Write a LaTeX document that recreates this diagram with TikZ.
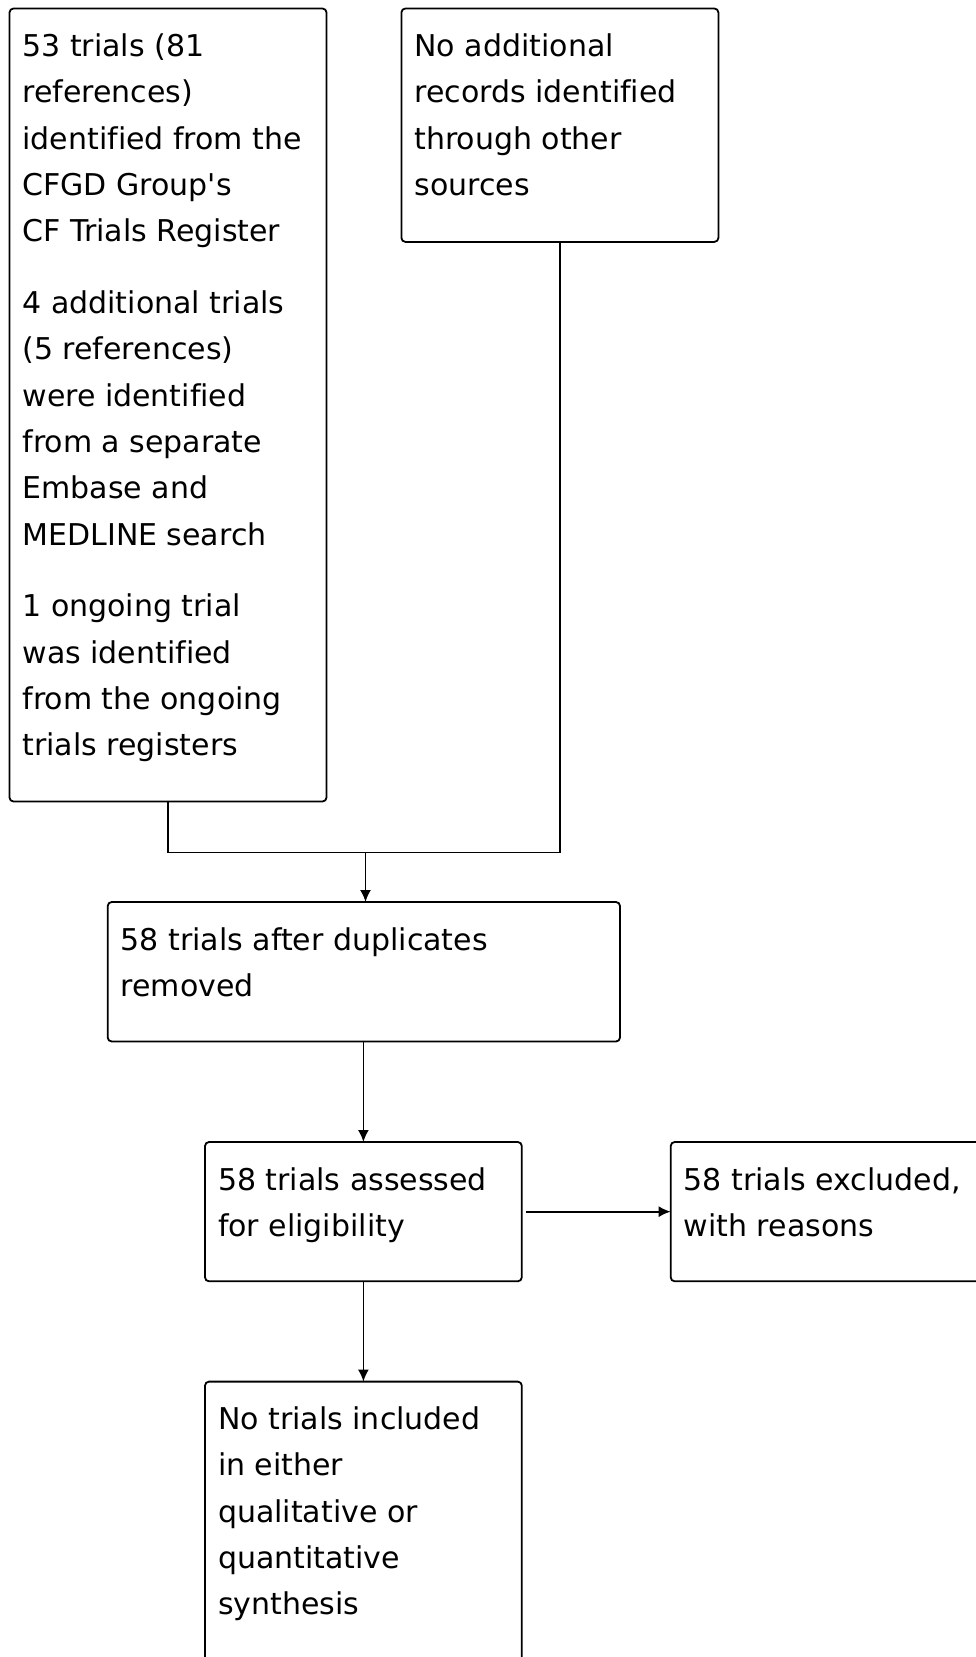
\documentclass[tikz,border=0pt]{standalone}
\usepackage{fontspec}
\setmainfont{DejaVu Sans}[Ligatures=CommonOff]
\usetikzlibrary{arrows.meta}
\newcommand\boxtxt[3]{\parbox[c][#2pt][t]{#1pt}{\raggedright\fontsize{30}{46.3}\selectfont\setlength{\parindent}{0pt}\setlength{\parskip}{25.5pt}\rule{0pt}{48pt}#3}}
\tikzset{
  flowbox/.style={draw=black, line width=1.8pt, rounded corners=4pt, inner xsep=13pt, inner ysep=0pt, outer sep=0pt, anchor=north west, align=left},
  flowarrow/.style={draw=black, line width=1.8pt, -{Latex[length=12pt,width=11pt]}},
  flowline/.style={draw=black, line width=1.8pt}
}
\begin{document}
\begin{tikzpicture}[x=1pt,y=-1pt]
\useasboundingbox (0,0) rectangle (976,1657);
\clip (0,0) rectangle (976,1657);
\fill[white] (0,0) rectangle (976,1657);
\node[flowbox, minimum width=317pt, minimum height=793pt] (b1) at (9.5,8.5)
 {\boxtxt{291}{793}{53 trials (81\\references)\\identified from the\\CFGD Group\textquotesingle s\\CF Trials Register\par
 4 additional trials\\(5 references)\\were identified\\from a separate\\Embase and\\MEDLINE search\par
 1 ongoing trial\\was identified\\from the ongoing\\trials registers}};
\node[flowbox, minimum width=317pt, minimum height=233.4pt] (b2) at (401.4,8.5)
 {\boxtxt{291}{233.4}{No additional\\records identified\\through other\\sources}};
\node[flowbox, minimum width=512.3pt, minimum height=139.5pt] (b3) at (107.7,902)
 {\boxtxt{486.3}{139.5}{58 trials after duplicates\\removed}};
\node[flowbox, minimum width=316.8pt, minimum height=139.3pt] (b4) at (205,1142)
 {\boxtxt{290.8}{139.3}{58 trials assessed\\for eligibility}};
\node[flowbox, minimum width=330pt, minimum height=139.3pt] (b5) at (670.7,1142)
 {\boxtxt{304}{139.3}{58 trials excluded,\\with reasons}};
\node[flowbox, minimum width=316.8pt, minimum height=300pt] (b6) at (205,1381.6)
 {\boxtxt{290.8}{300}{No trials included\\in either\\qualitative or\\quantitative\\synthesis}};
\coordinate (join) at (365.5,852.4);
\draw[flowline] (b1.south) |- (join) -| (b2.south);
\draw[flowarrow] (join) -- (join |- b3.north);
\draw[flowarrow] (b4.north |- b3.south) -- (b4.north);
\draw[flowarrow, shorten <=4pt] (b4.east) -- (b5.west);
\draw[flowarrow] (b4.south) -- (b6.north);
\end{tikzpicture}
\end{document}
